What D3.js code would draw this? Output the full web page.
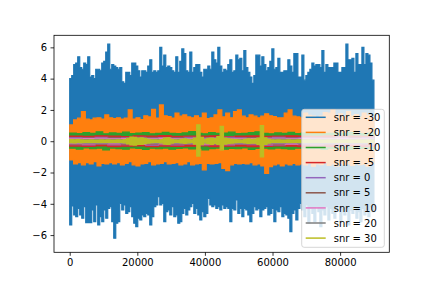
<!DOCTYPE html>
<html>
<head>
<meta charset="utf-8">
<script src="https://cdn.jsdelivr.net/npm/d3@7"></script>
<style>
  body { margin: 0; background: #fff; }
  text { font-family: "DejaVu Sans", sans-serif; }
</style>
</head>
<body>
<div id="chart"></div>
<script>
// signal length and legend labels
var nSamples = 90000;
var snrLevels = [-30, -20, -10, -5, 0, 5, 10, 20, 30];
var seriesColors = ["#1f77b4", "#ff7f0e", "#2ca02c", "#d62728", "#9467bd",
                    "#8c564b", "#e377c2", "#7f7f7f", "#bcbd22"];
var xTicks = [0, 20000, 40000, 60000, 80000];
var yTicks = [-6, -4, -2, 0, 2, 4, 6];

// envelopes (max / min per block of samples)
var blueHi = [4.0,4.2,4.9,5.0,5.4,4.7,4.6,5.0,4.9,5.4, 4.1,4.2,4.0,4.6,4.6,4.5,5.0,5.1,5.7,6.2,
  4.6,4.9,4.8,4.7,4.6,4.7,3.8,3.7,4.4,4.4, 4.2,5.0,5.0,4.8,4.5,4.1,4.5,4.5,4.4,4.8,
  5.2,4.4,4.5,4.4,4.5,6.0,4.8,5.5,4.7,4.8, 4.7,4.5,4.4,5.4,4.4,5.1,5.9,5.6,4.5,4.4,
  5.7,4.4,4.7,4.9,4.9,4.4,4.1,4.6,4.6,4.8, 4.6,5.7,5.2,5.0,6.0,4.8,
  4.4,4.6,4.5,4.9,5.2,4.4,4.5,5.5,5.2,5.3, 4.5,5.8,4.7,4.4,4.1,3.7,4.2,5.5,5.5,4.8,
  5.4,4.9,4.5,4.7,5.1,5.9,4.6,4.7,5.3,4.4, 4.4,4.5,4.5,5.2,4.8,4.4,5.6,5.6,4.1,4.1,
  5.5,3.9,4.2,4.4,4.6,5.0,4.8,4.9,4.9,4.7, 5.8,4.4,4.9,4.7,4.7,4.7,5.0,5.0,4.4,4.4,
  4.7,4.7,6.2,5.2,5.2,5.3,4.4,5.6,4.9,4.9, 6.0,4.9,5.6,5.5,5.0,3.9];
var blueLo = [-5.35,-4.14,-4.71,-4.82,-4.29,-4.71,-4.92,-4.18,-5.2,-5.2, -5.2,-4.39,-5.14,-4.07,-5.35,-4.82,-5.14,-4.39,-4.92,-4.29,
  -4.18,-5.14,-6.2,-5.24,-5.14,-3.97,-4.39,-4.07,-4.61,-4.5, -4.18,-4.82,-5.24,-5.46,-4.92,-5.03,-4.71,-4.82,-4.61,-4.71,
  -5.35,-4.82,-4.18,-4.07,-3.54,-4.07,-3.97,-5.14,-4.5,-4.39, -4.71,-4.18,-4.82,-4.71,-5.24,-5.14,-4.61,-4.29,-4.71,-4.39,
  -4.18,-3.97,-4.61,-4.29,-4.71,-5.03,-4.5,-4.82,-4.61,-3.65, -4.07,-4.18,-4.07,-4.29,-4.18,-4.39,
  -4.07,-4.29,-4.18,-4.29,-5.14,-4.29,-4.39,-3.75,-4.61,-4.29, -4.82,-4.29,-4.39,-4.71,-5.14,-4.61,-4.18,-4.39,-4.29,-4.82,
  -4.39,-4.29,-4.18,-4.71,-4.61,-4.29,-5.14,-4.39,-4.5,-4.18, -4.82,-4.61,-4.71,-4.92,-5.78,-4.61,-4.39,-5.03,-4.29,-3.97,
  -4.39,-4.82,-4.07,-5.24,-4.29,-4.61,-5.14,-4.18,-4.5,-5.46, -4.39,-4.71,-4.18,-5.03,-4.29,-4.61,-4.92,-4.39,-4.07,-5.14,
  -4.5,-4.71,-4.29,-5.35,-4.39,-4.61,-4.18,-4.92,-4.5,-5.14, -4.29,-4.71,-4.39,-4.82,-4.18,-4.5];

var orangeHi = [1.04,1.36,1.47,1.9,1.41,1.36,1.47,1.5,1.42,1.68, 1.5,1.45,1.5,1.42,1.48,2.0,1.42,1.5,1.38,1.62,
  1.55,2.04,1.48,2.32,1.62,1.58,1.48,1.79,1.6,1.68, 1.55,1.5,1.62,1.5,1.79,1.45,1.5,1.68,2.0,
  1.55,1.79,1.5,1.9,2.0,1.6,1.5,1.68,1.6,1.5, 1.6,1.75,1.62,1.58,1.5,1.5,1.79,2.0,1.6,1.55,
  1.5,1.79,1.65,1.6,1.5,1.6,1.83,1.79,2.0,1.6, 1.75,1.55,1.9,1.6,1.7,1.55,1.8,1.65,1.5];
var orangeLo = [-1.2,-1.45,-1.37,-1.51,-1.37,-1.45,-1.3,-1.58,-1.41,-1.45, -1.37,-1.45,-1.37,-1.51,-1.41,-1.3,-1.51,-1.58,-1.45,-1.41,
  -1.3,-1.51,-1.45,-1.41,-1.3,-1.45,-1.41,-1.37,-1.51,-1.45, -1.3,-1.51,-1.45,-1.41,-1.83,-1.41,-1.45,-1.41,-1.37,
  -1.73,-1.88,-1.51,-1.41,-1.45,-1.41,-1.45,-1.37,-1.51,-1.45, -1.58,-2.05,-1.62,-1.51,-1.45,-1.58,-1.45,-1.51,-1.41,-1.51,
  -1.45,-1.51,-1.4,-1.6,-1.45,-1.5,-1.35,-1.55,-1.45,-1.6, -1.4,-1.5,-1.45,-1.55,-1.4,-1.5,-1.45,-1.6,-1.4];

var greenHi = [0.52,0.48,0.55,0.5,0.6,0.47,0.53,0.5,0.58,0.49,0.52,0.55,0.47,0.5,0.56,0.5,0.48,0.53,0.62,0.5,
  0.47,0.55,0.5,0.52,0.58,0.48,0.5,0.55,0.6,0.5,0.47,0.53,0.5,0.56,0.49,0.52,0.5,0.55,0.48,0.5,
  0.53,0.5,0.57,0.5,0.48,0.52];
var greenLo = [-0.45,-0.5,-0.42,-0.48,-0.45,-0.55,-0.44,-0.47,-0.5,-0.43,-0.46,-0.52,-0.45,-0.48,-0.44,-0.5,-0.46,-0.43,-0.49,-0.45,
  -0.55,-0.47,-0.44,-0.5,-0.46,-0.48,-0.43,-0.52,-0.46,-0.45,-0.49,-0.44,-0.47,-0.5,-0.45,-0.43,-0.48,-0.46,-0.52,-0.45,
  -0.47,-0.44,-0.5,-0.46,-0.45,-0.48];

var redHi = [0.33,0.31,0.35,0.32,0.3,0.34,0.32,0.36,0.31,0.33,0.32,0.35,0.3,0.33,0.34,0.31,0.32,0.35,0.33,0.31,0.34,0.32,0.33,0.31];
var redLo = [-0.31,-0.33,-0.3,-0.34,-0.32,-0.3,-0.35,-0.31,-0.33,-0.32,-0.3,-0.34,-0.32,-0.31,-0.35,-0.33,-0.3,-0.32,-0.34,-0.31,-0.33,-0.32,-0.3,-0.33];
var purpleHi = [0.23,0.21,0.24,0.22,0.22,0.25,0.21,0.23,0.22,0.24,0.21,0.23,0.25,0.22,0.23,0.21,0.24,0.22,0.23,0.22,0.21,0.24,0.22,0.23];
var purpleLo = [-0.22,-0.24,-0.21,-0.23,-0.22,-0.21,-0.25,-0.22,-0.23,-0.21,-0.24,-0.22,-0.23,-0.21,-0.22,-0.25,-0.23,-0.21,-0.22,-0.24,-0.22,-0.23,-0.21,-0.22];
var brownHi = [0.19,0.2,0.18,0.21,0.19,0.18,0.2,0.19,0.21,0.18,0.19,0.2,0.18,0.19,0.21,0.19,0.18,0.2,0.19,0.18,0.2,0.19,0.21,0.18];
var brownLo = [-0.19,-0.18,-0.2,-0.19,-0.21,-0.18,-0.19,-0.2,-0.18,-0.19,-0.21,-0.18,-0.2,-0.19,-0.18,-0.2,-0.19,-0.21,-0.18,-0.19,-0.2,-0.18,-0.19,-0.2];
var pinkHi = [0.17,0.16,0.18,0.16,0.17,0.15,0.17,0.18,0.16,0.17,0.16,0.18,0.17,0.16,0.17,0.15,0.18,0.16,0.17,0.16,0.17,0.18,0.16,0.17];
var pinkLo = [-0.16,-0.17,-0.15,-0.17,-0.16,-0.18,-0.16,-0.17,-0.15,-0.16,-0.18,-0.16,-0.17,-0.16,-0.15,-0.17,-0.16,-0.18,-0.16,-0.17,-0.15,-0.16,-0.17,-0.16];
var grayHi = [0.12,0.11,0.12,0.12,0.11,0.13,0.12,0.11,0.12,0.12,0.13,0.11,0.12,0.12,0.11,0.12,0.13,0.12,0.11,0.12,0.12,0.11,0.12,0.12];
var grayLo = [-0.11,-0.12,-0.12,-0.11,-0.12,-0.12,-0.13,-0.11,-0.12,-0.12,-0.11,-0.12,-0.13,-0.12,-0.11,-0.12,-0.12,-0.11,-0.12,-0.13,-0.12,-0.11,-0.12,-0.12];

// snr = 30 is mostly the clean signal: bursts and three clicks
var oliveHi = [0.1,0.09,0.1,0.08,0.07,0.07,0.08,0.07,0.07,0.08, 0.07,0.08,0.07,0.07,0.08,0.07,0.1,0.18,0.27,0.24,
  0.2,0.22,0.18,0.12,0.09,0.08,0.07,0.1,0.2,0.22, 0.12,0.08,0.07,0.12,0.15,0.1,0.08,0.2,1.05,0.25,
  0.1,0.18,0.2,0.15,0.3,0.95,0.2,0.15,0.12,0.1, 0.08,0.07,0.12,0.15,0.12,0.14,0.2,1.0,0.22,0.12,
  0.08,0.07,0.08,0.07,0.07,0.08,0.07,0.07,0.08,0.07, 0.07,0.08,0.07,0.07,0.08,0.07,0.07,0.08,0.07,0.07,
  0.08,0.07,0.07,0.08,0.07,0.07,0.08,0.07,0.07,0.08, 0.07];
var oliveLo = [-0.09,-0.1,-0.08,-0.09,-0.07,-0.08,-0.07,-0.07,-0.08,-0.07, -0.08,-0.07,-0.07,-0.08,-0.07,-0.07,-0.1,-0.17,-0.24,-0.25,
  -0.2,-0.21,-0.16,-0.12,-0.09,-0.07,-0.08,-0.1,-0.18,-0.2, -0.12,-0.08,-0.07,-0.11,-0.14,-0.1,-0.08,-0.18,-0.95,-0.22,
  -0.1,-0.16,-0.2,-0.14,-0.2,-0.55,-0.18,-0.14,-0.12,-0.09, -0.08,-0.07,-0.11,-0.14,-0.12,-0.13,-0.2,-1.0,-0.2,-0.12,
  -0.08,-0.07,-0.07,-0.08,-0.07,-0.07,-0.08,-0.07,-0.07,-0.08, -0.07,-0.07,-0.08,-0.07,-0.07,-0.08,-0.07,-0.07,-0.07,-0.08,
  -0.07,-0.08,-0.07,-0.07,-0.08,-0.07,-0.07,-0.08,-0.07,-0.07, -0.08];

var envelopes = [
  [blueHi, blueLo], [orangeHi, orangeLo], [greenHi, greenLo], [redHi, redLo],
  [purpleHi, purpleLo], [brownHi, brownLo], [pinkHi, pinkLo], [grayHi, grayLo],
  [oliveHi, oliveLo]
];

var width = 432, height = 288;
var margin = {top: 35.3, right: 42.7, bottom: 35.7, left: 54};
var plotW = width - margin.left - margin.right;
var plotH = height - margin.top - margin.bottom;

var svg = d3.select("#chart").append("svg")
    .attr("width", width)
    .attr("height", height);

var x = d3.scaleLinear().domain([-4650, 94550]).range([0, plotW]);
var y = d3.scaleLinear().domain([-7.1, 6.77]).range([plotH, 0]);

var g = svg.append("g")
    .attr("transform", "translate(" + margin.left + "," + margin.top + ")");

g.append("clipPath").attr("id", "plotclip")
  .append("rect").attr("width", plotW).attr("height", plotH);

//turn a hi/lo envelope into step points across the samples
function toPoints(hi, lo) {
    var step = nSamples / hi.length;
    var pts = hi.map(function(h, i) { return {x: i * step, hi: h, lo: lo[i]}; });
    pts.push({x: nSamples, hi: hi[hi.length - 1], lo: lo[lo.length - 1]});
    return pts;
}

var area = d3.area()
    .x(function(d) { return x(d.x); })
    .y0(function(d) { return y(d.lo); })
    .y1(function(d) { return y(d.hi); })
    .curve(d3.curveStepAfter);

var traces = g.append("g").attr("clip-path", "url(#plotclip)");
envelopes.forEach(function(env, i) {
    traces.append("path")
        .datum(toPoints(env[0], env[1]))
        .attr("d", area)
        .attr("fill", seriesColors[i])
        .attr("stroke", seriesColors[i])
        .attr("stroke-width", 1.2);
});

// axes
var xAxis = g.append("g")
    .attr("transform", "translate(0," + plotH + ")")
    .call(d3.axisBottom(x).tickValues(xTicks).tickFormat(d3.format("d"))
        .tickSize(3.5).tickPadding(3.5).tickSizeOuter(0));
var yAxis = g.append("g")
    .call(d3.axisLeft(y).tickValues(yTicks).tickFormat(d3.format("d"))
        .tickSize(3.5).tickPadding(3.5).tickSizeOuter(0));
[xAxis, yAxis].forEach(function(ax) {
    ax.select(".domain").remove();
    ax.selectAll("line").attr("stroke", "#000").attr("stroke-width", 0.8);
    ax.selectAll("text").attr("fill", "#000")
        .style("font-size", "10px").style("font-family", "DejaVu Sans");
});

//frame
g.append("rect")
    .attr("width", plotW).attr("height", plotH)
    .attr("fill", "none").attr("stroke", "#000").attr("stroke-width", 0.8);

// legend, lower right
var legend = g.append("g")
    .attr("transform", "translate(" + (plotW - 5 - 82.6) + "," + (plotH - 5 - 138) + ")");
legend.append("rect")
    .attr("width", 82.6).attr("height", 138)
    .attr("rx", 2.5)
    .attr("fill", "#fff").attr("fill-opacity", 0.8)
    .attr("stroke", "#ccc").attr("stroke-opacity", 0.8).attr("stroke-width", 1);

var rows = legend.selectAll("g.row")
    .data(snrLevels)
    .enter().append("g")
    .attr("class", "row")
    .attr("transform", function(d, i) { return "translate(0," + (8 + i * 15.1) + ")"; });
rows.append("line")
    .attr("x1", 4).attr("x2", 24)
    .attr("stroke", function(d, i) { return seriesColors[i]; })
    .attr("stroke-width", 1.5);
rows.append("text")
    .attr("x", 32).attr("y", 3.6)
    .style("font-size", "10px")
    .attr("fill", "#000")
    .text(function(d) { return "snr = " + d; });
</script>
</body>
</html>
